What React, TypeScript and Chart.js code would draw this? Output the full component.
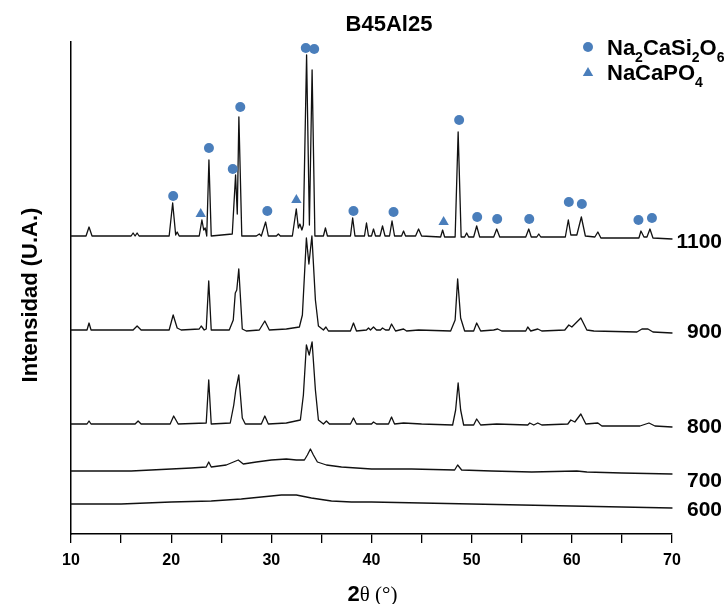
import React, { useEffect, useRef } from "react";
import { Chart, registerables } from "chart.js";

Chart.register(...registerables);

// ---- data (2θ in degrees, intensity in arbitrary stacked units) ----
const TITLE = "B45Al25";
const X_TICKS = [10, 20, 30, 40, 50, 60, 70];
const TRACE_LABELS = ["1100", "900", "800", "700", "600"];

const XRD_1100: [number, number][] = [
  [10, 298], [11.5, 298], [11.8, 307], [12.1, 298], [16.0, 298], [16.2, 301], [16.4, 298], [16.6, 301], [16.8, 298],
  [19.8, 298], [20.15, 331], [20.45, 299], [20.6, 302], [20.8, 298], [22.8, 298], [23.07, 314], [23.25, 304], [23.4, 306],
  [23.55, 298], [23.77, 374], [24.0, 298], [26.1, 300], [26.43, 359], [26.6, 320], [26.76, 417], [27.05, 298],
  [28.5, 298], [28.8, 300], [29.0, 298], [29.43, 312], [29.7, 298], [30.5, 298], [30.7, 300], [30.9, 298],
  [32.1, 298], [32.49, 325], [32.7, 306], [32.85, 310], [33.05, 304], [33.2, 309], [33.52, 479], [33.8, 309], [34.07, 464], [34.35, 298],
  [35.2, 298], [35.4, 306], [35.6, 298], [37.9, 298], [38.12, 316], [38.35, 298], [39.3, 298], [39.5, 311], [39.7, 298],
  [40.0, 298], [40.2, 305], [40.4, 298], [40.85, 298], [41.1, 308], [41.35, 298], [41.8, 298], [42.05, 313], [42.3, 298],
  [43.0, 298], [43.2, 303], [43.4, 298], [44.4, 298], [44.7, 305], [45.0, 298], [46.9, 297], [47.1, 304], [47.3, 297],
  [48.35, 297], [48.65, 402], [48.95, 297], [49.3, 297], [49.5, 301], [49.7, 297], [50.2, 297], [50.5, 308], [50.8, 297],
  [52.2, 297], [52.5, 305], [52.8, 297], [55.4, 297], [55.7, 305], [55.95, 297], [56.5, 297], [56.7, 300], [56.9, 297],
  [59.35, 297], [59.65, 314], [59.9, 299], [60.5, 299], [60.95, 317], [61.35, 298], [62.3, 297], [62.6, 302], [62.9, 296],
  [66.7, 296], [66.9, 303], [67.2, 297], [67.5, 297], [67.8, 305], [68.1, 296], [70, 295],
];

const XRD_900: [number, number][] = [
  [10, 204], [11.6, 204], [11.8, 211], [12.0, 204], [16.2, 204], [16.6, 208], [17.0, 204], [19.8, 204], [20.2, 219],
  [20.6, 206], [21.0, 204], [22.8, 205], [23.0, 208], [23.3, 204], [23.5, 205], [23.75, 253], [24.0, 204], [25.8, 204],
  [26.2, 214], [26.4, 241], [26.55, 244], [26.75, 265], [27.1, 205], [27.5, 203], [28.8, 204], [29.35, 213], [29.8, 204],
  [31.5, 205], [32.8, 207], [33.1, 219], [33.5, 296], [33.75, 270], [34.05, 298], [34.4, 234], [34.7, 208], [35.2, 204],
  [35.45, 207], [35.7, 203], [37.9, 203], [38.2, 211], [38.5, 203], [39.5, 204], [39.7, 206], [39.9, 204], [40.2, 207],
  [40.5, 204], [40.9, 204], [41.1, 206], [41.4, 204], [41.75, 204], [42.0, 210], [42.4, 203], [43.2, 205], [43.5, 203],
  [44.7, 204], [47.9, 203], [48.35, 214], [48.6, 255], [48.9, 216], [49.3, 203], [50.2, 203], [50.5, 211], [50.9, 203],
  [52.2, 204], [52.6, 205], [53.0, 203], [55.4, 203], [55.6, 207], [55.9, 203], [56.6, 205], [57.0, 203], [59.3, 204],
  [59.7, 209], [60.0, 207], [60.9, 216], [61.5, 204], [62.2, 203], [66.5, 202], [67.0, 205], [67.6, 205], [68.1, 202], [70, 201],
];

const XRD_800: [number, number][] = [
  [10, 110], [11.6, 110], [11.8, 113], [12.0, 110], [16.4, 110], [16.7, 113], [17.0, 110], [19.9, 110], [20.25, 118],
  [20.7, 110], [23.5, 111], [23.75, 154], [24.0, 110], [25.9, 111], [26.25, 129], [26.45, 144], [26.75, 159], [27.1, 116],
  [27.4, 110], [29.0, 110], [29.35, 118], [29.7, 110], [31.5, 111], [32.9, 114], [33.2, 139], [33.5, 189], [33.78, 179],
  [34.07, 192], [34.4, 144], [34.7, 114], [35.2, 110], [35.5, 113], [35.8, 110], [37.9, 110], [38.2, 116], [38.5, 110],
  [40.0, 110], [40.2, 112], [40.5, 110], [41.7, 110], [42.0, 117], [42.3, 110], [43.2, 111], [45.0, 110], [48.1, 109],
  [48.4, 124], [48.65, 151], [48.9, 124], [49.2, 109], [50.2, 109], [50.5, 115], [50.9, 109], [52.5, 110], [55.6, 109],
  [55.8, 111], [56.2, 109], [56.6, 111], [57.0, 109], [59.6, 110], [59.9, 114], [60.3, 112], [60.9, 120], [61.4, 110],
  [62.6, 111], [63.0, 108], [66.8, 108], [67.7, 111], [68.3, 108], [70, 107],
];

const XRD_700: [number, number][] = [
  [10, 63], [16, 63], [20, 65], [22, 66], [23.5, 67], [23.75, 72], [24.0, 67], [25.5, 69], [26.7, 74], [27.2, 70],
  [28.5, 72], [30, 74], [31.5, 75], [32.5, 74], [33.3, 74], [33.6, 79], [33.9, 85], [34.2, 79], [34.6, 72], [35.5, 69],
  [37, 67], [40, 65], [44, 65], [48.3, 64], [48.6, 69], [49.0, 64], [52, 63], [56, 62], [60.5, 63], [61.5, 62], [65, 61], [70, 60],
];

const XRD_600: [number, number][] = [
  [10, 30], [15, 30], [20, 32], [24, 33], [27, 35], [29, 37], [31, 39], [32.5, 39], [34, 36], [36, 33], [38, 32],
  [40, 32], [45, 31], [50, 30], [55, 29], [60, 28], [65, 27], [70, 26],
];

// phase markers (2θ, intensity position above the 1100 pattern)
const NCS_MARKS: [number, number][] = [
  [20.2, 338], [23.77, 386], [26.15, 365], [26.9, 427], [29.6, 323], [33.44, 486], [34.28, 485], [38.2, 323],
  [42.2, 322], [48.75, 414], [50.55, 317], [52.55, 315], [55.75, 315], [59.7, 332], [61.0, 330], [66.65, 314], [68.0, 316],
];
const NCP_MARKS: [number, number][] = [[22.95, 320], [32.5, 334], [47.2, 312]];

const TRACES = [XRD_1100, XRD_900, XRD_800, XRD_700, XRD_600];

const BLUE = "#4A7EBB";
const SANS = "'Liberation Sans', Arial, sans-serif";
const SERIF = "'Liberation Serif', 'Times New Roman', serif";

const LABEL_NUDGE = [3, -1, 0, 7, 2];

function drawSubText(ctx: CanvasRenderingContext2D, parts: [string, boolean][], x: number, y: number) {
  let cx = x;
  for (const [t, sub] of parts) {
    ctx.font = sub ? `bold 14px ${SANS}` : `bold 22px ${SANS}`;
    ctx.fillText(t, cx, sub ? y + 7 : y);
    cx += ctx.measureText(t).width;
  }
}

const decorPlugin = {
  id: "decor",
  afterDraw(chart: any) {
    const ctx: CanvasRenderingContext2D = chart.ctx;
    const xs = chart.scales.x;
    const ys = chart.scales.y;
    ctx.save();
    ctx.fillStyle = "#000";
    // title
    ctx.font = `bold 22px ${SANS}`;
    ctx.textAlign = "center";
    ctx.textBaseline = "alphabetic";
    ctx.fillText(TITLE, 389, 31);

    // trace labels
    ctx.font = `bold 21px ${SANS}`;
    ctx.textAlign = "right";
    ctx.textBaseline = "middle";
    TRACES.forEach((tr, i) => {
      const last = tr[tr.length - 1];
      ctx.fillText(TRACE_LABELS[i], 722, ys.getPixelForValue(last[1]) + LABEL_NUDGE[i]);
    });

    // x title: "2θ (°)"
    ctx.textAlign = "left";
    ctx.textBaseline = "alphabetic";
    ctx.font = `bold 22px ${SANS}`;
    const w2 = ctx.measureText("2").width;
    ctx.font = `21px ${SERIF}`;
    const wr = ctx.measureText("θ (°)").width;
    const cx = (xs.left + xs.right) / 2 + 1;
    const sx = cx - (w2 + wr) / 2;
    ctx.font = `bold 22px ${SANS}`;
    ctx.fillText("2", sx, 601);
    ctx.font = `21px ${SERIF}`;
    ctx.fillText("θ (°)", sx + w2, 601);

    // y title
    ctx.save();
    ctx.translate(31, 295);
    ctx.rotate(-Math.PI / 2);
    ctx.font = `bold 22px ${SANS}`;
    ctx.textAlign = "center";
    ctx.textBaseline = "middle";
    ctx.fillText("Intensidad (U.A.)", 0, 0);
    ctx.restore();

    // legend
    ctx.fillStyle = BLUE;
    ctx.beginPath();
    ctx.arc(588, 47, 5, 0, Math.PI * 2);
    ctx.fill();
    ctx.beginPath();
    ctx.moveTo(588, 67);
    ctx.lineTo(593.2, 76);
    ctx.lineTo(582.8, 76);
    ctx.closePath();
    ctx.fill();
    ctx.fillStyle = "#000";
    ctx.textAlign = "left";
    ctx.textBaseline = "alphabetic";
    drawSubText(ctx, [["Na", false], ["2", true], ["CaSi", false], ["2", true], ["O", false], ["6", true]], 607, 55);
    drawSubText(ctx, [["NaCaPO", false], ["4", true]], 607, 80);
    ctx.restore();
  },
};

export default function App() {
  const ref = useRef<HTMLCanvasElement | null>(null);
  useEffect(() => {
    if (!ref.current) return;
    const lineSets = TRACES.map((tr, i) => ({
      type: "line" as const,
      label: TRACE_LABELS[i],
      data: tr.map(([x, y]) => ({ x, y })),
      borderColor: "#111",
      borderWidth: 1.3,
      borderJoinStyle: "round",
      borderCapStyle: "round",
      pointRadius: 0,
      tension: 0,
      fill: false,
      clip: false as any,
    }));
    const chart = new Chart(ref.current, {
      type: "line",
      data: {
        datasets: [
          {
            type: "scatter" as const,
            label: "Na2CaSi2O6",
            data: NCS_MARKS.map(([x, y]) => ({ x, y })),
            pointStyle: "circle",
            pointRadius: 5,
            backgroundColor: BLUE,
            borderColor: BLUE,
            borderWidth: 0,
            showLine: false,
            clip: false as any,
          },
          {
            type: "scatter" as const,
            label: "NaCaPO4",
            data: NCP_MARKS.map(([x, y]) => ({ x, y })),
            pointStyle: "triangle",
            pointRadius: 6,
            backgroundColor: BLUE,
            borderColor: BLUE,
            borderWidth: 0,
            showLine: false,
            clip: false as any,
          },
          ...lineSets,
        ] as any,
      },
      options: {
        animation: false,
        responsive: false,
        maintainAspectRatio: false,
        devicePixelRatio: 1,
        events: [],
        layout: { padding: { left: 0, right: 55, top: 42, bottom: 0 } },
        plugins: { legend: { display: false }, title: { display: false }, tooltip: { enabled: false } },
        scales: {
          x: {
            type: "linear",
            min: X_TICKS[0],
            max: X_TICKS[X_TICKS.length - 1],
            ticks: {
              stepSize: 5,
              autoSkip: false,
              maxRotation: 0,
              padding: 8,
              color: "#000",
              font: { family: SANS, size: 16, weight: "bold" },
              callback: (v: any) => (X_TICKS.includes(Number(v)) ? String(v) : ""),
            },
            grid: { display: true, drawOnChartArea: false, drawTicks: true, tickLength: 9, color: "#000", lineWidth: 1.3 },
            border: { display: true, color: "#000", width: 1.5 },
            afterFit: (s: any) => { s.height = 70; },
          },
          y: {
            type: "linear",
            min: 0,
            max: 492,
            ticks: { display: false },
            grid: { display: false },
            border: { display: true, color: "#000", width: 1.5 },
            afterFit: (s: any) => { s.width = 71; },
          },
        },
      } as any,
      plugins: [decorPlugin],
    });
    return () => chart.destroy();
  }, []);
  return (
    <div style={{ position: "fixed", left: 0, top: 0, width: 727, height: 604, background: "#fff" }}>
      <canvas ref={ref} width={727} height={604} style={{ width: 727, height: 604, display: "block" }} />
    </div>
  );
}
